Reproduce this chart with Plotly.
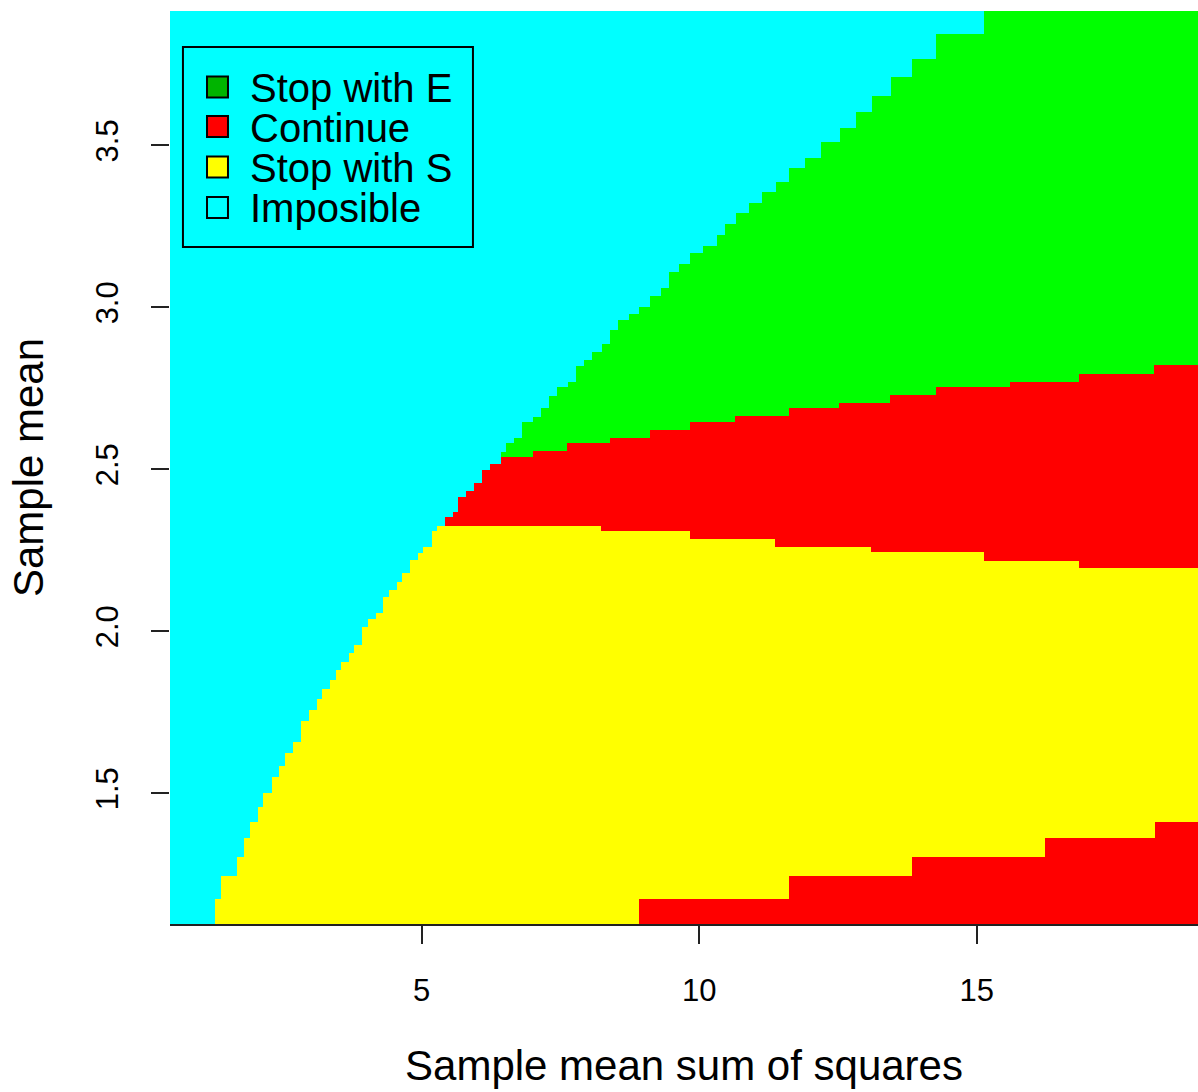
import plotly.graph_objects as go

# Axis limits of the decision map
x_limits = [0.468, 18.984]
y_limits = [1.097, 3.915]

# Boundary of the impossible region: for mean sum of squares in
# [imp_x[k], imp_x[k+1]) the sample mean is feasible only up to imp_y[k]
imp_x = [1.279, 1.387, 1.675, 1.801, 1.909, 2.053, 2.143, 2.305, 2.432, 2.540,
         2.684, 2.828, 2.972, 3.116, 3.206, 3.350, 3.458, 3.548, 3.692, 3.782,
         3.926, 4.035, 4.179, 4.305, 4.413, 4.557, 4.647, 4.791, 4.935, 5.025,
         5.187, 5.277, 5.421, 5.566, 5.656, 5.800, 5.944, 6.088, 6.232, 6.430,
         6.520, 6.664, 6.808, 7.006, 7.151, 7.295, 7.439, 7.637, 7.781, 7.925,
         8.069, 8.249, 8.393, 8.537, 8.736, 8.916, 9.114, 9.312, 9.456, 9.636,
         9.834, 10.068, 10.321, 10.465, 10.663, 10.897, 11.131, 11.383, 11.617,
         11.906, 12.194, 12.536, 12.824, 13.112, 13.455, 13.833, 14.265, 15.130]
imp_y = [1.173, 1.244, 1.303, 1.361, 1.411, 1.457, 1.500, 1.550, 1.584, 1.624,
         1.658, 1.723, 1.757, 1.791, 1.821, 1.849, 1.880, 1.905, 1.933, 1.957,
         2.013, 2.038, 2.056, 2.106, 2.127, 2.152, 2.180, 2.220, 2.242, 2.260,
         2.309, 2.325, 2.353, 2.368, 2.414, 2.433, 2.458, 2.498, 2.516, 2.553,
         2.581, 2.597, 2.646, 2.662, 2.689, 2.726, 2.754, 2.770, 2.819, 2.838,
         2.862, 2.887, 2.930, 2.961, 2.980, 3.001, 3.035, 3.060, 3.109, 3.134,
         3.168, 3.190, 3.224, 3.258, 3.292, 3.322, 3.356, 3.387, 3.431,
         3.461, 3.511, 3.554, 3.603, 3.653, 3.712, 3.767, 3.844, 3.915]

# Upper decision boundary: stop with E above stop_e_y
stop_e_x = [6.430, 7.006, 7.619, 8.393, 9.114, 9.834, 10.645, 11.617, 12.518,
            13.437, 14.265, 15.598, 16.841, 18.192]
stop_e_y = [2.538, 2.557, 2.581, 2.597, 2.621, 2.646, 2.665, 2.689, 2.705,
            2.729, 2.754, 2.770, 2.794, 2.822]

# Lower decision boundary: stop with S below stop_s_y
stop_s_x = [0.468, 8.231, 9.834, 11.365, 13.094, 15.130, 16.841]
stop_s_y = [2.326, 2.309, 2.285, 2.260, 2.245, 2.217, 2.195]

# Small sample means with large sums of squares: continue below low_cont_y
low_cont_x = [8.916, 11.617, 13.833, 16.228, 18.210]
low_cont_y = [1.173, 1.244, 1.303, 1.361, 1.411]

categories = ["Imposible", "Stop with E", "Continue", "Stop with S"]
region_colors = ["#00FFFF", "#00FF00", "#FF0000", "#FFFF00"]
legend_order = ["Stop with E", "Continue", "Stop with S", "Imposible"]
legend_colors = ["#00B400", "#FF0000", "#FFFF00", "#00FFFF"]


def step_value(xs, ys, x, default):
    value = default
    for xi, yi in zip(xs, ys):
        if x >= xi:
            value = yi
        else:
            break
    return value


def classify(cx, cy):
    if cy > step_value(imp_x, imp_y, cx, float("-inf")):
        return 0
    if cy > step_value(stop_e_x, stop_e_y, cx, float("inf")):
        return 1
    if cy > step_value(stop_s_x, stop_s_y, cx, float("inf")):
        return 2
    if cy < step_value(low_cont_x, low_cont_y, cx, float("-inf")):
        return 2
    return 3


def edges(limits, *series):
    vals = {round(v, 4) for s in series for v in s}
    vals |= {round(limits[0], 4), round(limits[1], 4)}
    return sorted(v for v in vals if limits[0] <= v <= limits[1])


x_edges = edges(x_limits, imp_x, stop_e_x, stop_s_x, low_cont_x)
y_edges = edges(y_limits, imp_y, stop_e_y, stop_s_y, low_cont_y)

z = []
for j in range(len(y_edges) - 1):
    cy = 0.5 * (y_edges[j] + y_edges[j + 1])
    row = []
    for i in range(len(x_edges) - 1):
        cx = 0.5 * (x_edges[i] + x_edges[i + 1])
        row.append(classify(cx, cy))
    z.append(row)

n = len(region_colors)
colorscale = []
for k, c in enumerate(region_colors):
    colorscale.append([k / n, c])
    colorscale.append([(k + 1) / n, c])

fig = go.Figure(go.Heatmap(
    x=x_edges, y=y_edges, z=z,
    zmin=-0.5, zmax=n - 0.5,
    colorscale=colorscale, showscale=False,
    hoverinfo="skip",
))

FONT = "Liberation Sans, Arial, Helvetica, sans-serif"

# Legend box with colour keys
shapes = [dict(type="rect", xref="paper", yref="paper",
               x0=0.0126, x1=0.2947, y0=0.7414, y1=0.9605,
               line=dict(color="black", width=2), fillcolor="rgba(0,0,0,0)")]
annotations = []
key_centres = [0.9167, 0.8734, 0.8290, 0.7847]
text_centres = [0.9156, 0.8718, 0.8279, 0.7841]
for label, color, kc, tc in zip(legend_order, legend_colors, key_centres, text_centres):
    shapes.append(dict(type="rect", xref="paper", yref="paper",
                       x0=0.0360, x1=0.0564, y0=kc - 0.0115, y1=kc + 0.0115,
                       line=dict(color="black", width=2), fillcolor=color))
    annotations.append(dict(xref="paper", yref="paper", x=0.0760, y=tc,
                            xanchor="left", yanchor="middle", showarrow=False,
                            text=label, font=dict(family=FONT, size=40, color="black")))

fig.update_layout(
    width=1198, height=1092,
    margin=dict(l=170, r=0, t=11, b=168),
    paper_bgcolor="white", plot_bgcolor="white",
    font=dict(family=FONT, color="black"),
    shapes=shapes, annotations=annotations,
    showlegend=False,
)
fig.update_xaxes(
    range=x_limits, tickvals=[5, 10, 15], ticktext=["5", "10", "15"],
    ticks="outside", ticklen=18, tickwidth=2, tickcolor="#222222",
    showline=True, linecolor="#222222", linewidth=2,
    showgrid=False, zeroline=False,
    tickfont=dict(size=31), ticklabelstandoff=20,
    title=dict(text="Sample mean sum of squares", font=dict(size=42), standoff=43),
)
fig.update_yaxes(
    range=y_limits, tickvals=[1.5, 2.0, 2.5, 3.0, 3.5],
    ticktext=["1.5", "2.0", "2.5", "3.0", "3.5"],
    ticks="outside", ticklen=18, tickwidth=2, tickcolor="#222222",
    showline=False, showgrid=False, zeroline=False,
    tickangle=-90, tickfont=dict(size=31), ticklabelstandoff=21,
    title=dict(text="Sample mean", font=dict(size=42), standoff=32),
)

fig.write_html("out.html")
